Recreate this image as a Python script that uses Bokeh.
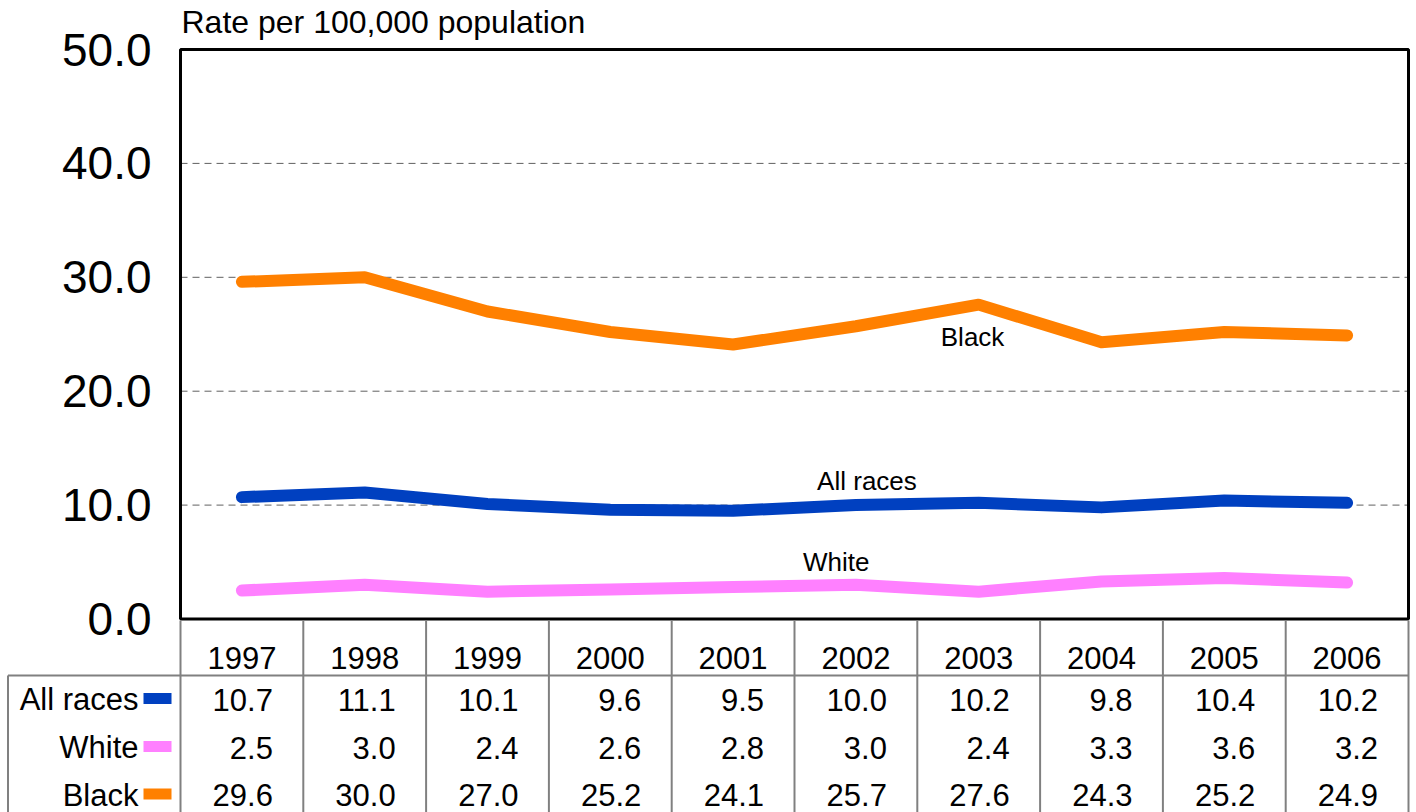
from bokeh.plotting import figure
from bokeh.models import Range1d
from bokeh.embed import file_html
from bokeh.resources import INLINE
from bokeh.core.properties import value

# ---------------- data ----------------
years = ["1997", "1998", "1999", "2000", "2001", "2002", "2003", "2004", "2005", "2006"]
all_races = [10.7, 11.1, 10.1, 9.6, 9.5, 10.0, 10.2, 9.8, 10.4, 10.2]
white = [2.5, 3.0, 2.4, 2.6, 2.8, 3.0, 2.4, 3.3, 3.6, 3.2]
black = [29.6, 30.0, 27.0, 25.2, 24.1, 25.7, 27.6, 24.3, 25.2, 24.9]
series_names = ["All races", "White", "Black"]
series_colors = ["#0040C0", "#FF80FF", "#FF8000"]
y_ticks = [0, 10, 20, 30, 40, 50]
grid_ticks = [10, 20, 30, 40]
y_title = "Rate per 100,000 population"

FONT = value("Liberation Sans")

# ---------------- layout constants (page pixels) ----------------
W, H = 1416, 812
PLOT_L, PLOT_R = 180, 1408          # chart box left/right
PLOT_T, PLOT_B = 49, 618.5          # chart box top/bottom (50 and 0)
Y_MAX = 50
COL_W = (PLOT_R - PLOT_L) / len(years)
PX_PER_UNIT = (PLOT_B - PLOT_T) / Y_MAX

x_start = 0.5 - PLOT_L / COL_W
x_end = 0.5 + (W - PLOT_L) / COL_W
y_start = -(H - PLOT_B) / PX_PER_UNIT
y_end = PLOT_B / PX_PER_UNIT


def xpx(px):
    return 0.5 + (px - PLOT_L) / COL_W


def ypx(py):
    return (PLOT_B - py) / PX_PER_UNIT


xs = list(range(1, len(years) + 1))
n = len(years)

p = figure(width=W, height=H, x_range=Range1d(x_start, x_end), y_range=Range1d(y_start, y_end),
           output_backend="svg", toolbar_location=None, title=None,
           x_axis_location=None, y_axis_location=None,
           min_border_left=0, min_border_right=0, min_border_top=0, min_border_bottom=0)
p.outline_line_color = None
p.grid.visible = False
p.background_fill_color = "white"
p.border_fill_color = "white"
# table drawn in a pixel-like extra range (0 at top, 812 at bottom)
p.extra_y_ranges = {"tbl": Range1d(H, 0)}

# dashed gridlines
p.segment(x0=[0.5] * len(grid_ticks), x1=[n + 0.5] * len(grid_ticks), y0=grid_ticks, y1=grid_ticks,
          line_color="#606060", line_width=1, line_dash="7 5")

# series lines
for vals, col in zip([all_races, white, black], series_colors):
    p.line(xs, vals, line_width=12, line_color=col, line_cap="round", line_join="round")

# chart box
p.quad(left=[0.5], right=[n + 0.5], bottom=[0], top=[Y_MAX], fill_color=None,
       line_color="black", line_width=3)

# y tick labels
p.text(x=[0.5] * len(y_ticks), y=y_ticks, text=[f"{v:.1f}" for v in y_ticks], x_offset=-29,
       text_font=FONT, text_font_size="46px", text_align="right", text_baseline="middle",
       text_color="black")

# y title
p.text(x=[0.5], y=[ypx(21)], text=[y_title], x_offset=1, text_font=FONT, text_font_size="32px",
       text_align="left", text_baseline="middle", text_color="black")

# inline series labels
p.text(x=[6.95, 6.09, 5.84], y=[24.8, 12.15, 5.04], text=["Black", "All races", "White"],
       text_font=FONT, text_font_size="26px", text_align="center", text_baseline="middle",
       text_color="black")

# ---------------- data table ----------------
LINE_C = "#808080"
bounds = [i + 0.5 for i in range(n + 1)]
TBL_TOP, HEAD_LINE, LEFT_PX = 620, 675, 7.5
p.segment(x0=bounds, x1=bounds, y0=[TBL_TOP] * len(bounds), y1=[H] * len(bounds),
          line_color=LINE_C, line_width=2, y_range_name="tbl")
p.segment(x0=[xpx(LEFT_PX)], x1=[bounds[-1]], y0=[HEAD_LINE], y1=[HEAD_LINE],
          line_color=LINE_C, line_width=2, y_range_name="tbl")
p.segment(x0=[xpx(LEFT_PX)], x1=[xpx(LEFT_PX)], y0=[HEAD_LINE], y1=[H],
          line_color=LINE_C, line_width=2, y_range_name="tbl")

p.text(x=xs, y=[657] * n, text=years, text_font=FONT, text_font_size="31px",
       text_align="center", text_baseline="middle", text_color="black", y_range_name="tbl")

row_y = [699, 747, 794.5]
for vals, name, col, ry in zip([all_races, white, black], series_names, series_colors, row_y):
    p.text(x=xs, y=[ry] * n, text=[f"{v:.1f}" for v in vals], x_offset=31,
           text_font=FONT, text_font_size="31px", text_align="right", text_baseline="middle",
           text_color="black", y_range_name="tbl")
    p.text(x=[0.5], y=[ry], text=[name], x_offset=-42, text_font=FONT, text_font_size="31px",
           text_align="right", text_baseline="middle", text_color="black", y_range_name="tbl")
    p.rect(x=[xpx(157)], y=[ry - 1], width=28, height=11, width_units="screen",
           height_units="screen", fill_color=col, line_color=None, y_range_name="tbl")

open("out.html", "w").write(file_html(p, INLINE))
